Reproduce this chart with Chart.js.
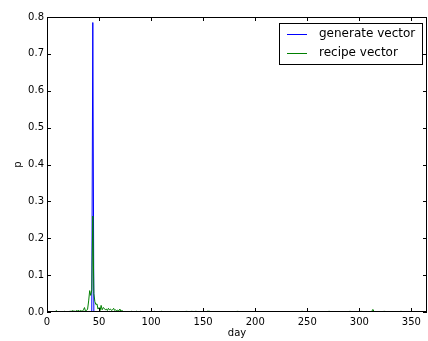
<!DOCTYPE html>
<html>
<head>
<meta charset="utf-8">
<script src="https://cdn.jsdelivr.net/npm/chart.js@4/dist/chart.umd.min.js"></script>
<style>
html,body{margin:0;padding:0;background:#fff;}
#wrap{width:428px;height:341px;position:relative;}
</style>
</head>
<body>
<div id="wrap"><canvas id="c" width="428" height="341"></canvas></div>
<script>
// ---- data ----
const xTicks = [0, 50, 100, 150, 200, 250, 300, 350];
const yTicks = [0.0, 0.1, 0.2, 0.3, 0.4, 0.5, 0.6, 0.7, 0.8];
const seriesNames = ["generate vector", "recipe vector"];

const generateDays   = [0, 43, 44, 45, 365];
const generateValues = [0, 0, 0.785, 0, 0];

const recipeDays = [
  0, 8, 9, 10, 16, 17, 18, 21, 22, 23, 24, 25, 26, 27, 28, 29, 30, 31, 32, 33, 34,
  35, 36, 37, 38, 39, 40, 41, 42, 43, 44, 45, 46, 47, 48, 49, 50, 51, 52, 53, 54,
  55, 56, 57, 58, 59, 60, 61, 62, 63, 64, 65, 66, 67, 68, 69, 70, 71, 72, 73, 74,
  80, 81, 82, 85, 86, 87, 89, 90, 91, 99, 100, 101, 102, 103, 104, 109, 110, 111,
  118, 119, 120, 133, 134, 135, 138, 139, 140, 142, 143, 144, 153, 154, 155, 156, 157,
  182, 183, 184, 244, 245, 246, 270, 271, 272, 290, 291, 292, 301, 302, 303,
  311, 312, 313, 314, 315, 323, 324, 325, 339, 340, 341, 365
];
const recipeValues = [
  0, 0, 0.004, 0, 0, 0.002, 0, 0, 0.003, 0.001, 0.004, 0.002, 0.003, 0.001, 0.004, 0.002, 0.005, 0.002, 0.004, 0.003, 0.002,
  0.006, 0.012, 0.002, 0.004, 0.008, 0.03, 0.058, 0.045, 0.06, 0.26, 0.05, 0.028, 0.02, 0.022, 0.008, 0.012, 0.004, 0.018, 0.006, 0.012,
  0.01, 0.006, 0.008, 0.004, 0.01, 0.006, 0.008, 0.004, 0.006, 0.01, 0.004, 0.006, 0.003, 0.005, 0.003, 0.008, 0.002, 0.004, 0.002, 0,
  0, 0.002, 0, 0, 0.002, 0, 0, 0.002, 0, 0, 0.002, 0, 0, 0.002, 0, 0, 0.002, 0,
  0, 0.002, 0, 0, 0.003, 0, 0, 0.003, 0, 0, 0.003, 0, 0, 0.002, 0.002, 0.002, 0,
  0, 0.003, 0, 0, 0.003, 0, 0, 0.003, 0, 0, 0.003, 0, 0, 0.003, 0,
  0, 0.002, 0.007, 0.002, 0, 0, 0.003, 0, 0, 0.003, 0, 0
];

const toPoints = (xs, ys) => xs.map((x, i) => ({x: x, y: ys[i]}));

const FONT = "'DejaVu Sans', sans-serif";

// frame + inward ticks on all four sides
const framePlugin = {
  id: 'frame',
  afterDatasetsDraw(chart) {
    const {ctx, chartArea: a, scales} = chart;
    ctx.save();
    ctx.strokeStyle = '#000';
    ctx.lineWidth = 1;
    ctx.strokeRect(a.left + 0.5, a.top + 0.5, a.right - a.left - 1, a.bottom - a.top - 1);
    const tl = 4;
    ctx.beginPath();
    xTicks.forEach(v => {
      const x = Math.round(scales.x.getPixelForValue(v)) + 0.5;
      ctx.moveTo(x, a.bottom); ctx.lineTo(x, a.bottom - tl);
      ctx.moveTo(x, a.top); ctx.lineTo(x, a.top + tl);
    });
    yTicks.forEach(v => {
      const y = Math.round(scales.y.getPixelForValue(v)) + 0.5;
      ctx.moveTo(a.left, y); ctx.lineTo(a.left + tl, y);
      ctx.moveTo(a.right, y); ctx.lineTo(a.right - tl, y);
    });
    ctx.stroke();
    ctx.restore();
  }
};

// matplotlib-style legend box
const legendPlugin = {
  id: 'mplLegend',
  afterDraw(chart) {
    const {ctx, chartArea: a} = chart;
    const boxRight = a.right - 5, boxTop = a.top + 6;
    const boxW = 143, rowH = 19, boxH = 41;
    const boxLeft = boxRight - boxW;
    ctx.save();
    ctx.fillStyle = '#fff';
    ctx.fillRect(boxLeft, boxTop, boxW, boxH);
    ctx.strokeStyle = '#000';
    ctx.lineWidth = 1;
    ctx.strokeRect(boxLeft + 0.5, boxTop + 0.5, boxW, boxH);
    ctx.font = '12px ' + FONT;
    ctx.textBaseline = 'middle';
    ctx.textAlign = 'left';
    chart.data.datasets.forEach((ds, i) => {
      const y = boxTop + 10.5 + i * rowH;
      ctx.strokeStyle = ds.borderColor;
      ctx.beginPath();
      ctx.moveTo(boxLeft + 8, Math.round(y) + 0.5);
      ctx.lineTo(boxLeft + 28, Math.round(y) + 0.5);
      ctx.stroke();
      ctx.fillStyle = '#000';
      ctx.fillText(ds.label, boxLeft + 40, y);
    });
    ctx.restore();
  }
};

new Chart(document.getElementById('c'), {
  type: 'line',
  data: {
    datasets: [
      {
        label: seriesNames[0],
        data: toPoints(generateDays, generateValues),
        borderColor: '#0000ff',
        borderWidth: 1,
        pointRadius: 0,
        tension: 0,
        fill: false,
        order: 1
      },
      {
        label: seriesNames[1],
        data: toPoints(recipeDays, recipeValues),
        borderColor: '#008000',
        borderWidth: 1,
        pointRadius: 0,
        tension: 0,
        fill: false,
        order: 0
      }
    ]
  },
  options: {
    responsive: false,
    animation: false,
    devicePixelRatio: 1,
    layout: {padding: {left: 0, right: 1, top: 17, bottom: 0}},
    plugins: {legend: {display: false}, tooltip: {enabled: false}},
    scales: {
      x: {
        type: 'linear',
        min: 0, max: 365,
        afterBuildTicks: s => { s.ticks = xTicks.map(v => ({value: v})); },
        afterFit: s => { s.height = 29; },
        grid: {display: false, drawTicks: false},
        border: {display: false},
        ticks: {color: '#000', font: {family: FONT, size: 10}, padding: 4, maxRotation: 0, autoSkip: false},
        title: {display: true, text: 'day', color: '#000', font: {family: FONT, size: 10}, padding: {top: 0, bottom: 2}}
      },
      y: {
        type: 'linear',
        min: 0, max: 0.8,
        afterBuildTicks: s => { s.ticks = yTicks.map(v => ({value: v})); },
        afterFit: s => { s.width = 47; },
        grid: {display: false, drawTicks: false},
        border: {display: false},
        ticks: {color: '#000', font: {family: FONT, size: 10}, padding: 3, autoSkip: false,
                callback: v => Number(v).toFixed(1)},
        title: {display: true, text: 'p', color: '#000', font: {family: FONT, size: 10}, padding: {top: 12, bottom: 0}}
      }
    }
  },
  plugins: [framePlugin, legendPlugin]
});
</script>
</body>
</html>
